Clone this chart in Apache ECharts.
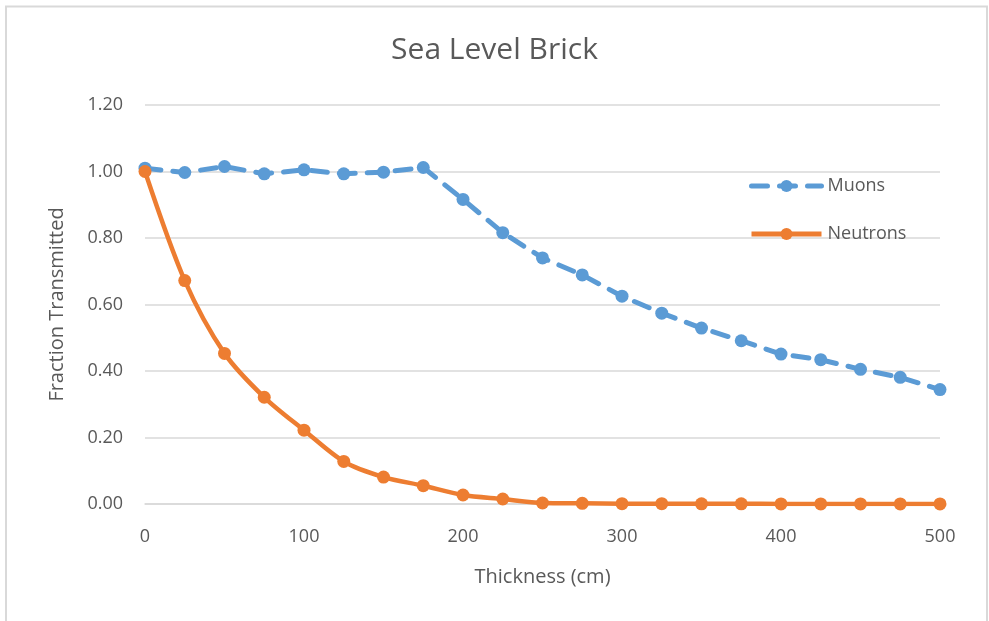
<!DOCTYPE html>
<html>
<head>
<meta charset="utf-8">
<script src="https://cdn.jsdelivr.net/npm/echarts@6/dist/echarts.min.js"></script>
<style>
  html, body { margin: 0; padding: 0; background: #fff; }
  #chart { width: 989px; height: 621px; }
</style>
</head>
<body>
<div id="chart"></div>
<script>
// Thickness of brick (cm) at each measurement
const thickness = [0, 25, 50, 75, 100, 125, 150, 175, 200, 225, 250, 275, 300, 325, 350, 375, 400, 425, 450, 475, 500];

// Fraction of particles transmitted
const muons = [1.01, 0.997, 1.015, 0.993, 1.005, 0.993, 0.998, 1.012, 0.916, 0.816, 0.74, 0.689, 0.625, 0.574, 0.529, 0.491, 0.451, 0.434, 0.405, 0.381, 0.344];
const neutrons = [1.0, 0.672, 0.453, 0.321, 0.222, 0.128, 0.081, 0.055, 0.027, 0.015, 0.003, 0.002, 0.001, 0.001, 0.0005, 0.0005, 0.0003, 0.0002, 0.0002, 0.0001, 0.0001];

const yTicks = { min: 0, max: 1.2, step: 0.2 };
const xTicks = { min: 0, max: 500, step: 100 };

const pairs = (xs, ys) => xs.map((x, i) => [x, ys[i]]);

const FONT = '"Open Sans", "Liberation Sans", sans-serif';
const TEXT = '#595959';

const chart = echarts.init(document.getElementById('chart'), null, { renderer: 'canvas' });
chart.setOption({
  backgroundColor: '#ffffff',
  animation: false,
  title: {
    text: 'Sea Level Brick',
    left: 'center',
    top: 30,
    textStyle: { fontFamily: FONT, fontSize: 30, fontWeight: 'normal', color: TEXT }
  },
  legend: {
    orient: 'vertical',
    left: 744,
    top: 172,
    itemWidth: 70,
    itemHeight: 15,
    itemGap: 30,
    lineStyle: { width: 5 },
    textStyle: { fontFamily: FONT, fontSize: 18, color: TEXT, padding: [0, 0, 0, 1] },
    data: ['Muons', 'Neutrons']
  },
  grid: { left: 145, right: 49, top: 105, bottom: 117, containLabel: false },
  xAxis: {
    type: 'value',
    min: xTicks.min, max: xTicks.max, interval: xTicks.step,
    name: 'Thickness (cm)',
    nameLocation: 'middle',
    nameGap: 63,
    nameTextStyle: { fontFamily: FONT, fontSize: 20, color: TEXT },
    axisLine: { show: true, lineStyle: { color: '#d9d9d9', width: 1.5 } },
    axisTick: { show: false },
    splitLine: { show: false },
    axisLabel: { fontFamily: FONT, fontSize: 18, color: TEXT, margin: 24 }
  },
  yAxis: {
    type: 'value',
    min: yTicks.min, max: yTicks.max, interval: yTicks.step,
    name: 'Fraction Transmitted',
    nameLocation: 'middle',
    nameGap: 78,
    nameTextStyle: { fontFamily: FONT, fontSize: 20, color: TEXT },
    axisLine: { show: false },
    axisTick: { show: false },
    splitLine: { show: true, lineStyle: { color: '#d9d9d9', width: 1.5 } },
    axisLabel: {
      fontFamily: FONT, fontSize: 18, color: TEXT, margin: 22,
      formatter: v => v.toFixed(2)
    }
  },
  series: [
    {
      name: 'Muons',
      type: 'line',
      data: pairs(thickness, muons),
      symbol: 'circle',
      symbolSize: 13,
      itemStyle: { color: '#5b9bd5' },
      lineStyle: { color: '#5b9bd5', width: 5, type: [16, 12], cap: 'round' },
      z: 2
    },
    {
      name: 'Neutrons',
      type: 'line',
      data: pairs(thickness, neutrons),
      smooth: 0.3,
      symbol: 'circle',
      symbolSize: 13,
      itemStyle: { color: '#ed7d31' },
      lineStyle: { color: '#ed7d31', width: 4.5 },
      z: 3
    }
  ],
  graphic: [
    {
      type: 'rect',
      shape: { x: 6, y: 6.5, width: 981, height: 660 },
      style: { fill: null, stroke: '#d9d9d9', lineWidth: 2 },
      silent: true,
      z: -1
    }
  ]
});
</script>
</body>
</html>
